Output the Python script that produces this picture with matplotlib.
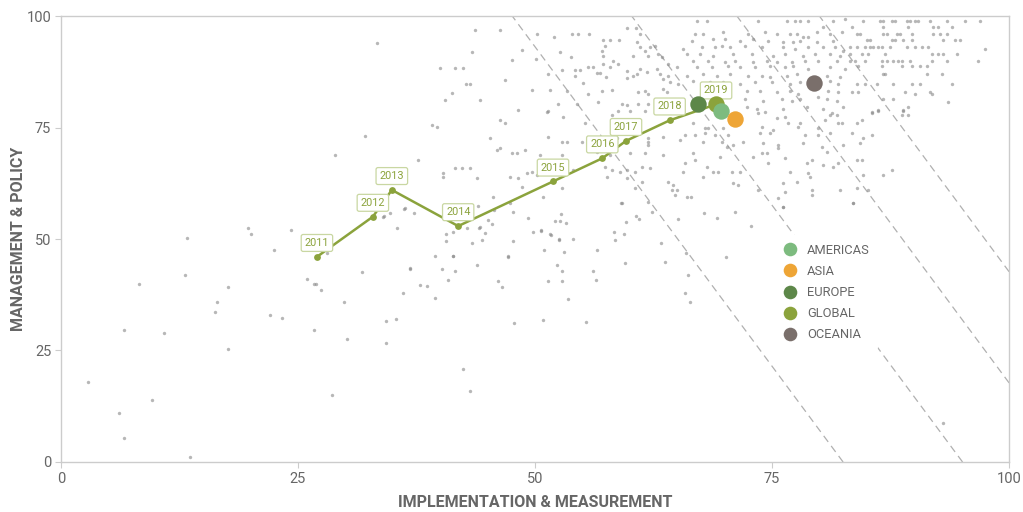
import numpy as np
import matplotlib
matplotlib.use("Agg")
import matplotlib.pyplot as plt
from matplotlib.lines import Line2D

# ---------------------------------------------------------------- data
# Global trajectory (implementation & measurement, management & policy)
years = ["2011", "2012", "2013", "2014", "2015", "2016", "2017", "2018", "2019"]
global_x = [27.0, 32.9, 34.9, 41.9, 51.9, 57.1, 59.6, 64.2, 69.1]
global_y = [46.0, 55.0, 61.0, 52.9, 62.9, 68.1, 72.0, 76.6, 80.2]

# Regional averages (latest year)
regions = ["AMERICAS", "ASIA", "EUROPE", "GLOBAL", "OCEANIA"]
region_x = [69.6, 71.1, 67.2, 69.1, 79.4]
region_y = [78.7, 76.9, 80.2, 80.2, 84.9]
region_colors = ["#7dbb7f", "#eea536", "#5d8749", "#8ba33c", "#7a6f6b"]

# Iso-score guide lines: x + slope * y = level
guide_slope = 0.349
guide_levels = [82.5, 95.1, 106.2, 114.9]

# Individual organisations (x, y)
pts_upper_mid = [
    (50.2, 96.0), (52.0, 95.3), (53.9, 96.0), (54.5, 96.0), (55.7, 96.0), (59.7, 97.3), (60.7, 97.3),
    (61.1, 96.0), (57.2, 94.6), (57.9, 94.6), (58.9, 94.6), (57.4, 93.3), (60.8, 94.2), (61.1, 93.0),
    (57.1, 92.2), (62.1, 93.0), (62.7, 93.3), (52.6, 91.9), (53.8, 90.8), (50.1, 90.4), (57.2, 91.0),
    (58.2, 89.9), (58.8, 89.2), (60.3, 91.0), (61.6, 92.2), (61.9, 91.0), (63.0, 91.5), (63.4, 90.8),
    (65.6, 92.6), (66.0, 91.5), (64.0, 89.2), (56.1, 88.6), (57.2, 89.2), (52.8, 87.9), (54.2, 87.9),
    (54.7, 87.9), (55.6, 88.6), (57.9, 88.6), (59.7, 87.7), (61.1, 88.1), (61.8, 87.4), (62.9, 88.1),
    (65.0, 88.6), (66.0, 86.5), (51.4, 87.0), (54.2, 86.5), (56.5, 87.2), (56.9, 87.2), (57.5, 86.3),
    (59.7, 86.1), (60.3, 86.5), (60.8, 87.0), (63.2, 87.0), (63.5, 85.9), (64.0, 86.5), (64.2, 85.2),
    (65.1, 84.8), (55.1, 85.0), (49.7, 83.4), (51.6, 83.4), (53.4, 83.2), (55.6, 82.5), (57.1, 83.2),
    (58.1, 83.4), (60.9, 83.0), (61.6, 83.2), (61.9, 82.5), (63.5, 83.6), (63.9, 83.0), (52.4, 80.3),
    (54.4, 80.3), (56.6, 80.7), (59.2, 80.3), (59.7, 80.0), (60.9, 80.3), (61.6, 78.7), (61.9, 80.3),
    (51.4, 78.7), (58.8, 78.7), (60.0, 78.7),
]
pts_upper_right = [
    (67.1, 98.9), (68.1, 98.9), (73.5, 98.9), (76.6, 98.9), (77.4, 98.9), (78.0, 98.9), (78.8, 98.9),
    (81.4, 98.9), (82.7, 99.3), (66.9, 96.0), (67.7, 96.0), (69.8, 96.4), (72.5, 96.0), (74.3, 96.4),
    (75.5, 96.0), (76.9, 96.0), (77.6, 96.0), (78.3, 95.3), (78.8, 95.3), (79.7, 96.4), (80.4, 97.5),
    (81.1, 96.0), (82.4, 96.4), (66.6, 94.4), (68.8, 94.8), (70.0, 94.8), (71.6, 94.4), (73.0, 94.8),
    (74.6, 94.4), (76.2, 94.2), (77.2, 94.2), (78.0, 94.4), (79.7, 94.2), (81.4, 94.4), (67.6, 93.0),
    (69.0, 93.0), (69.7, 93.3), (70.6, 93.0), (72.2, 93.3), (73.9, 93.0), (76.2, 93.0), (77.4, 92.6),
    (78.8, 93.0), (80.4, 93.0), (81.6, 93.0), (82.5, 92.2), (67.4, 91.5), (68.8, 91.0), (70.9, 91.5),
    (72.9, 91.5), (75.1, 91.0), (76.4, 91.5), (78.3, 91.0), (79.5, 91.5), (81.1, 91.5), (82.2, 91.0),
    (66.7, 89.9), (68.2, 89.9), (70.0, 89.7), (71.1, 89.9), (73.0, 89.7), (74.5, 89.9), (75.5, 89.7),
    (77.1, 89.7), (78.5, 89.9), (79.9, 89.9), (81.9, 89.9), (67.1, 88.6), (68.7, 88.6), (70.4, 88.8),
    (71.6, 88.6), (73.2, 88.6), (74.8, 88.8), (76.4, 88.6), (77.2, 88.8), (78.8, 88.1), (81.1, 88.6),
    (82.7, 88.1), (67.7, 87.0), (69.2, 86.5), (70.6, 87.0), (72.5, 86.5), (73.9, 86.5), (74.8, 86.3),
    (76.6, 86.5), (77.6, 87.0), (80.8, 86.5), (82.2, 86.3), (66.7, 85.4), (68.5, 85.2), (69.8, 85.2),
    (71.6, 84.8), (73.2, 85.2), (75.0, 85.2), (76.9, 84.8), (78.0, 85.2), (81.1, 85.4), (82.0, 84.8),
    (72.4, 83.2), (73.7, 83.2), (75.5, 83.0), (76.9, 83.2), (77.7, 82.5), (80.9, 83.2), (82.0, 83.0),
    (72.2, 81.4), (74.1, 80.9), (76.1, 81.4), (77.1, 80.9), (78.0, 81.4), (79.9, 81.8), (80.8, 81.4),
    (81.9, 80.9), (72.4, 79.6), (73.4, 79.1), (76.2, 79.1), (78.7, 79.6), (80.4, 79.1), (82.5, 79.6),
]
pts_far_right = [
    (84.6, 98.9), (86.4, 98.9), (86.7, 98.9), (87.7, 98.9), (88.0, 98.9), (89.2, 98.9), (89.6, 98.9),
    (90.1, 98.9), (90.4, 98.9), (91.7, 98.9), (93.5, 98.9), (95.4, 98.9), (96.9, 98.9), (86.7, 97.5),
    (89.3, 97.5), (92.0, 97.5), (92.5, 97.5), (94.0, 97.5), (83.4, 97.5), (84.0, 96.0), (84.3, 96.0),
    (86.7, 96.0), (87.1, 96.0), (88.2, 96.0), (88.5, 96.0), (89.8, 96.0), (92.0, 96.0), (92.7, 96.0),
    (93.5, 96.0), (85.0, 94.6), (85.3, 94.6), (87.7, 94.6), (88.0, 94.6), (88.8, 94.6), (89.8, 94.6),
    (93.0, 94.6), (94.3, 94.6), (94.8, 94.6), (83.2, 93.0), (84.0, 93.0), (84.8, 93.0), (85.3, 93.0),
    (85.7, 93.0), (86.2, 93.0), (86.6, 93.0), (87.4, 93.0), (89.2, 93.0), (90.1, 93.0), (90.8, 93.0),
    (91.5, 93.0), (97.5, 92.6), (83.2, 91.5), (84.5, 91.5), (85.1, 91.5), (86.9, 91.5), (91.9, 91.5),
    (92.5, 91.5), (93.0, 91.5), (94.5, 91.5), (83.2, 89.9), (83.8, 89.9), (84.8, 89.9), (86.6, 89.9),
    (87.1, 89.9), (87.8, 89.9), (88.3, 89.9), (88.7, 89.9), (89.6, 89.9), (91.9, 89.9), (93.5, 89.9),
    (96.7, 89.9), (84.1, 88.8), (86.6, 88.8), (88.7, 88.8), (89.8, 88.8), (90.6, 88.8), (91.4, 88.8),
    (86.7, 87.0), (86.9, 87.0), (91.4, 87.0), (92.9, 87.0), (84.0, 84.8), (84.8, 84.8), (86.1, 84.8),
    (87.8, 84.8), (89.8, 84.8), (90.6, 84.8), (94.0, 84.8), (83.4, 83.0), (84.1, 83.0), (89.0, 83.0),
    (91.7, 83.0), (91.9, 82.5), (90.1, 82.5), (86.7, 81.4), (87.8, 81.4), (93.6, 80.7), (89.3, 79.6),
    (85.5, 78.5), (86.2, 78.7), (88.8, 78.7), (84.0, 76.0), (84.5, 76.7), (85.5, 78.3), (86.2, 78.9),
    (88.7, 77.8), (89.3, 77.8), (88.8, 78.9), (83.4, 73.8), (84.6, 72.6), (84.3, 71.5), (85.5, 73.3),
    (84.0, 67.7), (84.5, 67.7), (87.7, 65.5), (86.7, 64.3), (84.6, 64.3), (84.0, 61.4), (85.1, 61.0),
    (83.5, 58.1), (93.0, 8.7),
]
pts_middle = [
    (51.3, 78.5), (53.0, 77.4), (55.3, 76.0), (58.1, 77.8), (51.4, 72.9), (52.8, 71.7), (53.4, 71.7),
    (55.0, 71.7), (58.1, 71.5), (58.6, 72.6), (61.9, 72.6), (61.9, 71.7), (61.9, 71.1), (63.5, 72.9),
    (65.3, 72.2), (65.8, 73.3), (50.5, 68.8), (52.8, 68.8), (56.5, 69.5), (57.9, 68.8), (60.0, 69.3),
    (61.6, 69.3), (63.5, 68.8), (65.8, 67.0), (49.7, 65.0), (54.0, 65.5), (57.4, 66.1), (58.1, 65.5),
    (59.0, 65.0), (59.7, 65.5), (60.5, 65.0), (61.3, 66.1), (62.1, 65.9), (65.6, 65.0), (50.2, 64.3),
    (57.6, 63.9), (59.7, 63.7), (61.3, 62.8), (64.0, 62.8), (52.8, 61.4), (60.5, 61.4), (64.6, 62.1),
    (65.0, 61.0), (64.5, 61.0), (50.8, 59.4), (59.2, 58.1), (61.9, 58.3), (64.8, 59.9), (66.0, 59.4),
    (66.7, 76.0), (66.9, 73.3), (67.9, 74.9), (67.9, 73.8), (68.2, 74.9), (69.0, 73.3), (69.8, 74.9),
    (70.4, 73.3), (67.7, 71.7), (69.7, 71.7), (70.3, 70.6), (70.9, 71.1), (71.9, 71.7), (73.5, 78.3),
    (73.9, 75.1), (74.3, 78.5), (74.8, 73.8), (75.1, 74.4), (73.7, 73.8), (75.5, 77.1), (76.4, 77.4),
    (76.7, 76.0), (74.1, 71.5), (75.6, 71.1), (75.6, 70.4), (73.9, 69.3), (74.5, 69.3), (73.0, 68.4),
    (66.7, 69.3), (66.9, 67.7), (69.5, 68.4), (76.4, 68.2), (74.6, 67.0), (78.0, 76.0), (77.7, 75.1),
    (78.5, 73.3), (78.3, 71.5), (79.9, 74.9), (79.9, 73.3), (80.3, 70.6), (80.6, 76.7), (81.1, 77.8),
    (81.1, 73.8), (80.8, 69.5), (82.0, 76.0), (82.4, 76.0), (82.5, 71.1), (81.3, 78.3), (81.9, 77.8),
    (78.7, 67.0), (79.2, 67.7), (80.4, 66.6), (81.4, 66.1), (82.0, 67.0), (68.1, 66.1), (68.8, 65.0),
    (69.3, 65.0), (70.8, 65.0), (71.6, 65.0), (67.7, 63.9), (76.9, 65.0), (78.8, 64.8), (79.0, 63.9),
    (70.9, 62.6), (71.4, 62.1), (76.2, 62.6), (77.6, 62.8), (79.2, 61.0), (79.2, 59.9), (82.2, 61.0),
    (73.5, 61.0), (75.6, 59.2), (76.4, 60.5), (66.5, 59.4), (76.2, 57.2),
]
pts_lower = [
    (47.4, 58.1), (50.6, 51.8), (51.6, 51.1), (47.2, 46.0), (52.1, 54.0), (52.6, 54.0), (52.7, 55.6),
    (53.3, 53.6), (52.5, 50.0), (53.1, 47.1), (54.0, 50.0), (52.8, 42.8), (52.8, 40.6), (53.5, 36.5),
    (55.4, 31.4), (56.5, 47.5), (56.1, 42.8), (56.4, 40.8), (58.3, 51.6), (58.4, 49.8), (59.4, 51.1),
    (59.5, 44.6), (59.6, 53.8), (59.1, 58.1), (60.7, 55.2), (61.0, 54.5), (62.3, 56.1), (63.3, 49.1),
    (63.7, 44.8), (65.1, 54.5), (65.9, 46.9), (66.1, 41.9), (65.8, 37.9), (66.4, 35.9), (67.8, 55.8),
    (69.2, 54.7), (70.1, 46.0), (71.1, 56.1), (72.8, 52.9), (76.2, 57.2), (83.5, 58.1),
]
pts_left = [
    (2.8, 17.9), (6.1, 11.0), (6.6, 5.4), (6.6, 29.6), (9.6, 13.9), (8.2, 39.9), (10.9, 28.9),
    (13.1, 41.9), (13.3, 50.2), (13.6, 1.1), (16.2, 33.6), (16.5, 35.9), (17.6, 39.2), (17.6, 25.3),
    (19.7, 52.5), (20.0, 51.1), (22.0, 33.0), (22.5, 47.5), (23.3, 32.3), (24.3, 52.0), (25.9, 41.0),
    (26.7, 39.9), (26.9, 39.9), (27.4, 38.6), (26.7, 29.6), (28.1, 46.9), (28.6, 15.0), (29.9, 35.9),
    (30.2, 27.6), (34.3, 31.6), (35.3, 32.1), (34.3, 26.7), (34.1, 55.2), (34.7, 55.8), (36.2, 56.7),
    (37.2, 55.8), (36.8, 43.3), (36.1, 37.9), (37.9, 39.7), (38.6, 39.5), (39.5, 36.8), (40.2, 43.3),
    (40.8, 40.8), (41.6, 42.8), (41.4, 46.2), (40.6, 51.1), (40.6, 49.6), (42.4, 20.9), (43.1, 15.9),
    (43.9, 44.2), (44.1, 52.5), (44.7, 51.3), (45.5, 53.4), (44.0, 57.4), (45.7, 56.5), (46.1, 40.6),
    (46.5, 39.2), (47.2, 46.2), (47.7, 49.6), (47.8, 31.2), (50.6, 52.0), (50.9, 47.5), (51.4, 40.6),
    (50.8, 31.8), (51.7, 50.9), (52.3, 44.2), (52.5, 49.8), (28.9, 68.8), (32.1, 73.1), (34.0, 54.9),
    (36.3, 57.0), (37.7, 67.7), (40.3, 64.8), (40.3, 63.9), (41.6, 65.9), (42.3, 65.9), (43.1, 65.9),
    (43.9, 63.7), (41.4, 51.6), (42.8, 52.5), (44.2, 52.7), (45.6, 59.4), (45.3, 72.6), (46.3, 70.4),
    (46.8, 76.0), (47.6, 69.3), (48.1, 69.3), (48.9, 70.0), (47.4, 63.9), (48.2, 63.7), (47.7, 56.1),
    (48.6, 61.7), (49.2, 64.8), (49.8, 51.6), (49.3, 54.7), (41.2, 82.7), (43.1, 84.8), (39.7, 75.1),
    (39.5, 46.2), (41.4, 46.2), (36.8, 43.5), (31.8, 42.6), (35.4, 52.5), (43.4, 49.1), (44.4, 49.8),
    (45.0, 54.3), (33.3, 93.9), (40.0, 88.3), (41.6, 88.3), (42.4, 88.3), (43.4, 91.9), (42.7, 84.8),
    (44.2, 81.2), (40.5, 81.2), (39.1, 75.6), (43.7, 96.9), (46.0, 70.0), (46.3, 76.7), (46.8, 85.7),
    (47.6, 90.1), (48.6, 92.4), (48.2, 78.9), (46.3, 96.9),
]

# ---------------------------------------------------------------- style
TEXT = "#666666"
GRID = "#cccccc"
OLIVE = "#8ba33c"
plt.rcParams["font.family"] = ["Roboto", "DejaVu Sans"]

fig = plt.figure(figsize=(10.23, 5.12), dpi=100)
ax = fig.add_axes([0.0596, 0.0977, 0.9267, 0.871])
ax.set_xlim(0, 100)
ax.set_ylim(0, 100)

# background organisations
all_pts = np.array(pts_upper_mid + pts_upper_right + pts_far_right + pts_middle + pts_lower + pts_left)
ax.scatter(all_pts[:, 0], all_pts[:, 1], s=6, color="#888888", alpha=0.6,
           linewidths=0, zorder=1)

# iso-score guide lines
yy = np.array([0.0, 100.0])
for level in guide_levels:
    ax.plot(level - guide_slope * yy, yy, color="#b0b0b0", lw=0.9,
            dashes=(6, 4), zorder=0.5)

# global trajectory
ax.plot(global_x, global_y, color=OLIVE, lw=1.8, zorder=3)
ax.scatter(global_x[:-1], global_y[:-1], s=24, color=OLIVE, linewidths=0, zorder=4)
for yr, gx, gy in zip(years, global_x, global_y):
    ax.annotate(yr, xy=(gx, gy), xytext=(0, 10), textcoords="offset points",
                ha="center", va="center", fontsize=7.8, color=OLIVE, zorder=5,
                bbox=dict(boxstyle="round,pad=0.32,rounding_size=0.18",
                          fc="white", ec="#c9d7a2", lw=0.9))

# regional dots
draw_order = ["GLOBAL", "EUROPE", "AMERICAS", "ASIA", "OCEANIA"]
for name in draw_order:
    i = regions.index(name)
    ax.scatter([region_x[i]], [region_y[i]], s=140, color=region_colors[i],
               linewidths=0, zorder=6)

handles = [Line2D([], [], marker="o", ls="", markersize=9.8, color=c,
                  markeredgewidth=0) for c in region_colors]
leg = ax.legend(handles, regions, loc="upper left", bbox_to_anchor=(0.753, 0.508),
                fontsize=9.3, frameon=True, facecolor="white", edgecolor="none",
                framealpha=1, handlelength=1.1, handletextpad=0.75,
                labelspacing=0.63, borderpad=0.65, borderaxespad=0)
for t in leg.get_texts():
    t.set_color(TEXT)
leg.set_zorder(2)

# axes
for sp in ax.spines.values():
    sp.set_color(GRID)
    sp.set_linewidth(1.0)
ticks = [0, 25, 50, 75, 100]
ax.set_xticks(ticks)
ax.set_yticks(ticks)
ax.tick_params(axis="both", length=4, color=GRID, labelcolor=TEXT, labelsize=10.5, pad=3)
ax.set_xlabel("IMPLEMENTATION & MEASUREMENT", fontsize=11.5, fontweight="bold",
              color=TEXT, labelpad=7)
ax.set_ylabel("MANAGEMENT & POLICY", fontsize=11.5, fontweight="bold",
              color=TEXT, labelpad=0)

fig.savefig("out.png", dpi=100, facecolor="white")
